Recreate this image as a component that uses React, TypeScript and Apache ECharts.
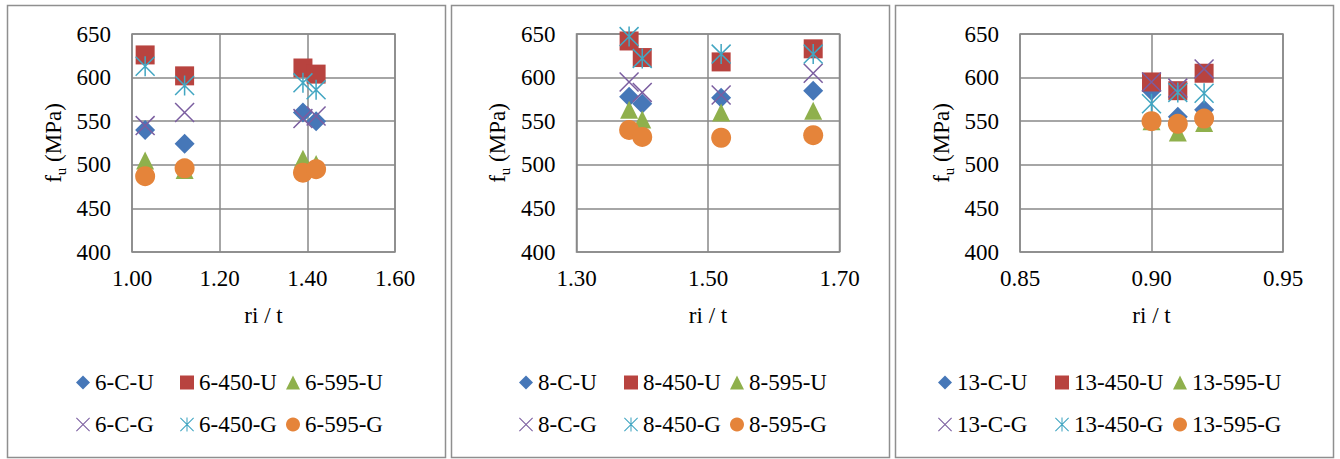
import React, { useEffect, useRef } from "react";
import * as echarts from "echarts";

// ---------- data ----------
const p1X = [1.03, 1.12, 1.39, 1.42];
const p1Names = ["6-C-U", "6-450-U", "6-595-U", "6-C-G", "6-450-G", "6-595-G"];
const s6CU = [540, 524, 560, 550];
const s6450U = [626, 602, 611, 604];
const s6595U = [505, 494, 507, 501];
const s6CG = [545, 560, 553, 556];
const s6450G = [613, 591, 594, 586];
const s6595G = [487, 496, 491, 495];

const p2X = [1.38, 1.4, 1.52, 1.66];
const p2Names = ["8-C-U", "8-450-U", "8-595-U", "8-C-G", "8-450-G", "8-595-G"];
const s8CU = [578, 570, 577, 585];
const s8450U = [642, 623, 618, 633];
const s8595U = [563, 552, 560, 562];
const s8CG = [595, 583, 580, 605];
const s8450G = [647, 622, 627, 627];
const s8595G = [540, 532, 531, 534];

const p3X = [0.9, 0.91, 0.92];
const p3Names = ["13-C-U", "13-450-U", "13-595-U", "13-C-G", "13-450-G", "13-595-G"];
const s13CU = [585, 555, 563];
const s13450U = [595, 585, 605];
const s13595U = [550, 537, 548];
const s13CG = [595, 588, 610];
const s13450G = [570, 583, 582];
const s13595G = [550, 547, 553];

const xAxes = [
  { min: 1.0, max: 1.6, interval: 0.2 },
  { min: 1.3, max: 1.7, interval: 0.2 },
  { min: 0.85, max: 0.95, interval: 0.05 },
];
const yTicks = { min: 400, max: 650, interval: 50 };
const xTitle = "ri / t";

// ---------- styling ----------
const FONT = '"Liberation Serif", "Times New Roman", serif';
const GRID_COLOR = "#898989";

const X_PATH =
  "path://M2.83 -2.83 L102.83 97.17 L97.17 102.83 L-2.83 2.83 Z M97.17 -2.83 L102.83 2.83 L2.83 102.83 L-2.83 97.17 Z";
const AST_PATH =
  "path://M2.83 -2.83 L102.83 97.17 L97.17 102.83 L-2.83 2.83 Z M97.17 -2.83 L102.83 2.83 L2.83 102.83 L-2.83 97.17 Z M46 -2.83 L54 -2.83 L54 102.83 L46 102.83 Z";

const STYLES = [
  { symbol: "diamond", size: 20, color: "#4677B8" },
  { symbol: "rect", size: 19, color: "#B8433F" },
  { symbol: "triangle", size: 18, color: "#8FB04C" },
  { symbol: X_PATH, size: 20, color: "#7B5EA0" },
  { symbol: AST_PATH, size: 20, color: "#42A6C2" },
  { symbol: "circle", size: 20, color: "#E5843A" },
];

const panels = [
  { xs: p1X, names: p1Names, vals: [s6CU, s6450U, s6595U, s6CG, s6450G, s6595G], left: 7, gridLeft: 132, legendCols: [69, 173, 279] },
  { xs: p2X, names: p2Names, vals: [s8CU, s8450U, s8595U, s8CG, s8450G, s8595G], left: 451, gridLeft: 576.5, legendCols: [68, 173, 279] },
  { xs: p3X, names: p3Names, vals: [s13CU, s13450U, s13595U, s13CG, s13450G, s13595G], left: 895, gridLeft: 1020, legendCols: [43, 160, 278] },
];

const PANEL_W = 438;
const LEGEND_ROWS = [371, 413];

export default function App() {
  const ref = useRef<HTMLDivElement>(null);
  useEffect(() => {
    if (!ref.current) return;
    const chart = echarts.init(ref.current, undefined, { renderer: "svg" });

    const grid: any[] = [];
    const xAxis: any[] = [];
    const yAxis: any[] = [];
    const series: any[] = [];
    const legend: any[] = [];
    const graphic: any[] = [];

    panels.forEach((p, pi) => {
      graphic.push({
        type: "rect",
        shape: { x: p.left + 0.5, y: 5.5, width: PANEL_W, height: 452 },
        style: { fill: "none", stroke: "#8f8f8f", lineWidth: 1.5 },
        silent: true,
        z: -1,
      });
      grid.push({
        left: p.gridLeft,
        top: 34,
        width: 263,
        height: 218,
        show: true,
        borderColor: GRID_COLOR,
        borderWidth: 1.5,
        backgroundColor: "transparent",
      });
      xAxis.push({
        type: "value",
        gridIndex: pi,
        min: xAxes[pi].min,
        max: xAxes[pi].max,
        interval: xAxes[pi].interval,
        name: xTitle,
        nameLocation: "middle",
        nameGap: 52,
        nameTextStyle: { fontFamily: FONT, fontSize: 23, color: "#000" },
        axisLine: { show: false },
        axisTick: { show: false },
        axisLabel: {
          fontFamily: FONT,
          fontSize: 23,
          color: "#000",
          margin: 15,
          formatter: (v: number) => v.toFixed(2),
        },
        splitLine: { show: true, lineStyle: { color: GRID_COLOR, width: 1.5 } },
      });
      yAxis.push({
        type: "value",
        gridIndex: pi,
        min: yTicks.min,
        max: yTicks.max,
        interval: yTicks.interval,
        name: "{n|f}{s|u}{n| (MPa)}",
        nameLocation: "middle",
        nameGap: 64,
        nameRotate: 90,
        nameTextStyle: {
          fontFamily: FONT,
          color: "#000",
          rich: {
            n: { fontFamily: FONT, fontSize: 23, color: "#000", lineHeight: 30, verticalAlign: "middle" },
            s: { fontFamily: FONT, fontSize: 15, color: "#000", lineHeight: 30, verticalAlign: "bottom" },
          },
        },
        axisLine: { show: false },
        axisTick: { show: false },
        axisLabel: { fontFamily: FONT, fontSize: 23, color: "#000", margin: 21 },
        splitLine: { show: true, lineStyle: { color: GRID_COLOR, width: 1.5 } },
      });
      p.names.forEach((name, si) => {
        const st = STYLES[si];
        series.push({
          type: "scatter",
          name,
          xAxisIndex: pi,
          yAxisIndex: pi,
          symbol: st.symbol,
          symbolSize: st.size,
          itemStyle: { color: st.color, opacity: 1 },
          data: p.xs.map((x, i) => [x, p.vals[si][i]]),
          z: 2 + si,
        });
        const row = Math.floor(si / 3);
        const col = si % 3;
        legend.push({
          data: [name],
          left: p.left + p.legendCols[col],
          top: LEGEND_ROWS[row],
          padding: 0,
          itemGap: 0,
          itemWidth: 14,
          itemHeight: 14,
          selectedMode: false,
          textStyle: { fontFamily: FONT, fontSize: 23, color: "#000", padding: [0, 0, 0, 0] },
        });
      });
    });

    chart.setOption({
      animation: false,
      backgroundColor: "#fff",
      grid,
      xAxis,
      yAxis,
      series,
      legend,
      graphic,
    });
    return () => chart.dispose();
  }, []);

  return (
    <div
      ref={ref}
      style={{ position: "fixed", left: 0, top: 0, width: 1340, height: 459, background: "#fff" }}
    />
  );
}
